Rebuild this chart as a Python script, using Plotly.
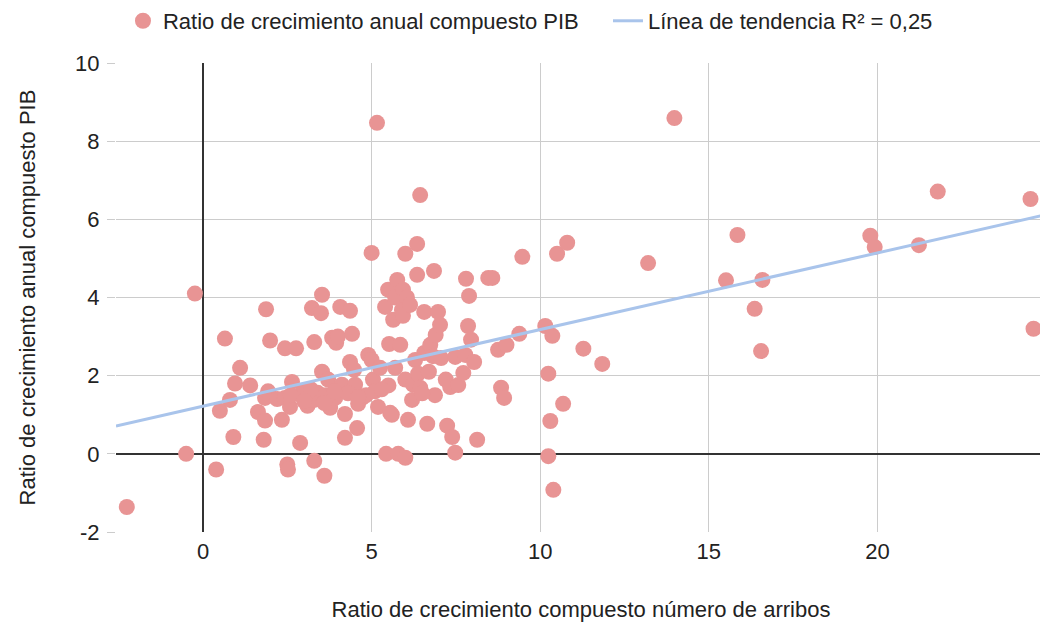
import plotly.graph_objects as go

# Ratio de crecimiento compuesto número de arribos (x) vs ratio de crecimiento anual compuesto PIB (y)
arribos = [
    -2.26, -0.5, -0.24, 0.39, 0.5, 0.65, 0.8, 0.9, 0.95, 1.1, 1.4, 1.63, 1.8, 1.84, 1.87, 1.99,
    1.84, 1.93, 2.2, 2.34, 2.43, 2.43, 2.5, 2.52, 2.58, 2.64, 2.76, 2.88, 2.97, 3.1, 3.23, 3.3,
    3.3, 3.3, 3.4, 3.5, 3.53, 3.53, 3.6, 3.65, 3.71, 3.77, 3.83, 3.92, 3.95, 4.0, 4.07, 4.12,
    4.21, 4.21, 4.36, 4.36, 4.42, 4.48, 4.51, 4.57, 4.6, 4.72, 4.84, 4.9, 5.0, 5.0, 5.04, 5.16,
    5.1, 5.19, 5.25, 5.4, 5.43, 5.49, 5.52, 5.55, 5.6, 5.64, 5.7, 5.7, 5.76, 5.79, 5.85, 5.9,
    5.93, 5.93, 6.0, 6.0, 6.0, 6.05, 6.08, 6.14, 6.2, 6.23, 6.29, 6.35, 6.35, 6.38, 6.44, 6.44,
    6.56, 6.56, 6.65, 6.74, 6.82, 6.85, 6.88, 6.9, 6.97, 7.03, 7.06, 7.2, 7.24, 7.33, 7.39, 7.48,
    7.48, 7.57, 7.72, 7.78, 7.8, 7.86, 7.89, 7.95, 8.04, 8.13, 8.46, 8.58, 8.75, 8.84, 8.93, 9.0,
    9.38, 9.47, 10.15, 10.24, 10.24, 10.3, 10.36, 10.39, 10.5, 10.68, 10.8, 11.28, 11.84,
    13.98, 13.2, 15.85, 15.51, 16.59, 16.36, 16.55, 19.79, 19.92, 21.23, 21.79, 24.54, 24.63,
    2.9, 3.2, 3.6, 4.3, 2.6, 3.0, 5.5, 6.5, 3.9, 4.6, 6.7, 5.3,
]
pib = [
    -1.36, 0.0, 4.1, -0.4, 1.1, 2.95, 1.38, 0.43, 1.8, 2.2, 1.75, 1.07, 0.36, 0.85, 3.7, 2.9,
    1.43, 1.6, 1.4, 0.87, 1.43, 2.7, -0.27, -0.4, 1.2, 1.84, 2.7, 0.28, 1.6, 1.23, 3.73, -0.18,
    2.86, 1.38, 1.56, 3.6, 4.07, 2.1, -0.56, 1.5, 1.9, 1.18, 2.97, 1.43, 2.84, 3.0, 3.76, 1.77,
    0.41, 1.02, 3.66, 2.35, 3.07, 2.15, 1.77, 0.66, 1.28, 1.43, 1.5, 2.53, 5.14, 2.4, 1.9, 8.47,
    1.6, 1.2, 2.2, 3.76, 0.0, 4.2, 2.81, 1.05, 1.0, 3.43, 4.0, 2.2, 4.45, 0.0, 2.79, 3.68,
    4.2, 3.53, 5.12, 1.9, -0.1, 4.0, 0.87, 3.81, 1.38, 1.77, 2.4, 5.37, 4.58, 2.05, 6.62, 1.69,
    2.58, 3.63, 0.77, 2.79, 2.5, 4.68, 1.5, 3.04, 3.63, 3.3, 2.45, 1.9, 0.72, 1.71, 0.43, 0.03,
    2.48, 1.76, 2.07, 2.53, 4.48, 3.27, 4.04, 2.92, 2.35, 0.36, 4.5, 4.5, 2.66, 1.69, 1.43, 2.79,
    3.07, 5.04, 3.27, -0.06, 2.05, 0.84, 3.02, -0.92, 5.12, 1.28, 5.4, 2.69, 2.3,
    8.59, 4.88, 5.6, 4.44, 4.45, 3.71, 2.63, 5.58, 5.29, 5.34, 6.71, 6.52, 3.2,
    1.5, 1.65, 1.3, 1.55, 1.5, 1.35, 1.75, 1.55, 1.6, 1.45, 2.1, 1.65,
]

# Trend line (y = pendiente * x + intercepto)
trend_pendiente = 0.196
trend_intercepto = 1.22

x_range = [-2.58, 25.0]
y_range = [-2, 10]
y_ticks = [-2, 0, 2, 4, 6, 8, 10]
y_tick_text = ["-2", "0", "2", "4", "6", "8", "10"]
x_ticks = [0, 5, 10, 15, 20]
x_tick_text = ["0", "5", "10", "15", "20"]

font_family = "Arial, Liberation Sans, Helvetica, sans-serif"
txt_color = "#222222"

fig = go.Figure()
fig.add_trace(go.Scatter(
    x=arribos, y=pib, mode="markers",
    name="Ratio de crecimiento anual compuesto PIB",
    marker=dict(size=16, color="#E89494", line=dict(width=0)),
    legend="legend",
))
trend_x = x_range
trend_y = [trend_pendiente * v + trend_intercepto for v in trend_x]
fig.add_trace(go.Scatter(
    x=trend_x, y=trend_y, mode="lines",
    name="Línea de tendencia R² = 0,25",
    line=dict(color="#A9C4EB", width=3),
    legend="legend2",
))

legend_common = dict(
    orientation="h", xanchor="left", y=1.0896, yanchor="middle",
    font=dict(size=22, color=txt_color), bgcolor="rgba(0,0,0,0)",
)

# The page body adds an 8px margin around the figure, so the figure is 1040x614
fig.update_layout(
    width=1040, height=614,
    margin=dict(l=108, r=2, t=55, b=90, autoexpand=False),
    paper_bgcolor="white", plot_bgcolor="white",
    font=dict(family=font_family, size=22, color=txt_color),
    showlegend=True,
    legend=dict(x=0.0075, **legend_common),
    legend2=dict(x=0.529, **legend_common),
    xaxis=dict(
        range=x_range, tickvals=x_ticks, ticktext=x_tick_text,
        showgrid=True, gridcolor="#CCCCCC", gridwidth=1,
        zeroline=True, zerolinecolor="#333333", zerolinewidth=1.5,
        showline=False, ticks="", ticklabelstandoff=4,
        title=dict(text="Ratio de crecimiento compuesto número de arribos",
                   font=dict(size=22, color=txt_color), standoff=41),
        tickfont=dict(size=22, color=txt_color),
    ),
    yaxis=dict(
        range=y_range, tickvals=y_ticks, ticktext=y_tick_text,
        showgrid=True, gridcolor="#CCCCCC", gridwidth=1,
        zeroline=True, zerolinecolor="#333333", zerolinewidth=1.5,
        showline=False, ticks="outside", ticklen=8, tickcolor="#CCCCCC",
        ticklabelstandoff=3,
        title=dict(text="Ratio de crecimiento anual compuesto PIB",
                   font=dict(size=22, color=txt_color), standoff=33),
        tickfont=dict(size=22, color=txt_color),
    ),
)

fig.write_html("out.html")
